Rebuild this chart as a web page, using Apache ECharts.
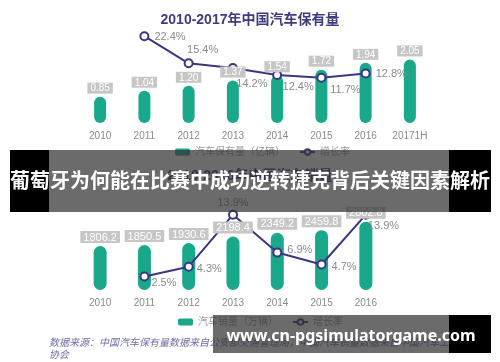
<!DOCTYPE html>
<html>
<head>
<meta charset="utf-8">
<script src="https://cdn.jsdelivr.net/npm/echarts@6/dist/echarts.min.js"></script>
<style>html,body{margin:0;padding:0;background:#fff;}#c{width:500px;height:362px;}</style>
</head>
<body>
<div id="c"></div>
<script>
const years1 = ['2010','2011','2012','2013','2014','2015','2016','20171H'];
const stock = [0.85, 1.04, 1.20, 1.37, 1.54, 1.72, 1.94, 2.05];
const stockGrowth = ['-', 22.4, 15.4, 14.2, 12.4, 11.7, 12.8, '-'];
const years2 = ['2010','2011','2012','2013','2014','2015','2016'];
const sales = [1806.2, 1850.5, 1930.6, 2198.4, 2349.2, 2459.8, 2802.8];
const salesGrowth = ['-', 2.5, 4.3, 13.9, 6.9, 4.7, 13.9];
const title1 = '2010-2017年中国汽车保有量';
const title2 = '2010-2016年中国汽车销量';
const legend1 = ['汽车保有量（亿辆）', '增长率'];
const legend2 = ['汽车销量（万辆）', '增长率'];
const bannerText = '葡萄牙为何能在比赛中成功逆转捷克背后关键因素解析';
const urlText = 'www.cn-pgsimulatorgame.com';
const sourceLine1 = '数据来源：中国汽车保有量数据来自公安部交通管理局，中国汽车销量数据来自中国汽车工业';
const sourceLine2 = '协会';

// label placement (style only)
const pos1 = [null, ['right',5,[0,1]], ['top',3,[14,0]], ['bottom',5,[19,0]], ['bottom',2,[21,0]], ['bottom',2,[24,0]], ['right',5,[0,1]], null];
const pos2 = [null, ['right',5,[-3,7]], ['right',5,[-2,2]], ['top',1,[0,0]], ['right',5,[0,-3]], ['right',5,[0,2]], ['right',0,[-3,11]]];

const GREEN = '#19a88a', PURPLE = '#3b3680', FONT = "'Liberation Sans','Noto Sans CJK SC',sans-serif";

function lineData(vals, pos) {
  return vals.map((v, i) => {
    if (v === '-' || !pos[i]) return v;
    return { value: v, label: { position: pos[i][0], distance: pos[i][1], offset: pos[i][2] } };
  });
}

const chart = echarts.init(document.getElementById('c'), null, { renderer: 'canvas' });
const axisLab = { color: '#8a8a8a', fontSize: 10, margin: 8, interval: 0, fontFamily: FONT };
chart.setOption({
  animation: false,
  textStyle: { fontFamily: FONT },
  title: [
    { text: title1, left: 'center', top: 8, textStyle: { color: '#3f3b7f', fontSize: 14, fontWeight: 'bold', fontFamily: FONT } },
    { text: title2, left: 'center', top: 164, textStyle: { color: '#3f3b7f', fontSize: 14, fontWeight: 'bold', fontFamily: FONT } }
  ],
  legend: [
    { data: [{ name: legend1[0], icon: 'roundRect' }, legend1[1]], left: 170, top: 142, itemWidth: 15, itemHeight: 7, itemGap: 14,
      textStyle: { color: '#9a9a9a', fontSize: 10, fontFamily: FONT } },
    { data: [{ name: legend2[0], icon: 'roundRect' }, legend2[1]], left: 173, top: 312, itemWidth: 15, itemHeight: 7, itemGap: 14,
      textStyle: { color: '#9a9a9a', fontSize: 10, fontFamily: FONT } }
  ],
  grid: [
    { left: 78, width: 354, top: 30, height: 93 },
    { left: 78, width: 310, top: 200, height: 90 }
  ],
  xAxis: [
    { type: 'category', gridIndex: 0, data: years1, axisLine: { show: false }, axisTick: { show: false }, axisLabel: axisLab },
    { type: 'category', gridIndex: 1, data: years2, axisLine: { show: false }, axisTick: { show: false }, axisLabel: axisLab }
  ],
  yAxis: [
    { type: 'value', gridIndex: 0, min: 0, max: 3, show: false, splitLine: { show: false } },
    { type: 'value', gridIndex: 0, min: 0, max: 24, show: false, splitLine: { show: false } },
    { type: 'value', gridIndex: 1, min: 0, max: 3700, show: false, splitLine: { show: false } },
    { type: 'value', gridIndex: 1, min: 0, max: 16.6, show: false, splitLine: { show: false } }
  ],
  series: [
    { name: legend1[0], type: 'bar', xAxisIndex: 0, yAxisIndex: 0, data: stock, barWidth: 12, z: 2,
      itemStyle: { color: GREEN, borderRadius: 6 } },
    { name: 'lab1', type: 'bar', xAxisIndex: 0, yAxisIndex: 0, data: stock, barWidth: 12, barGap: '-100%', z: 5,
      itemStyle: { color: 'rgba(0,0,0,0)' }, silent: true,
      label: { show: true, position: 'top', distance: 3, color: '#fff', fontSize: 10, backgroundColor: '#c6c6c6', padding: [1, 3, 0, 3],
        formatter: p => p.value.toFixed(2) } },
    { name: legend1[1], type: 'line', xAxisIndex: 0, yAxisIndex: 1, data: lineData(stockGrowth, pos1), z: 3,
      symbol: 'emptyCircle', symbolSize: 8, lineStyle: { color: PURPLE, width: 2 }, itemStyle: { color: PURPLE, borderWidth: 2 },
      label: { show: true, color: '#8a8a8a', fontSize: 11, formatter: p => p.value + '%' } },
    { name: legend2[0], type: 'bar', xAxisIndex: 1, yAxisIndex: 2, data: sales, barWidth: 13, z: 2,
      itemStyle: { color: GREEN, borderRadius: 6.5 } },
    { name: 'lab2', type: 'bar', xAxisIndex: 1, yAxisIndex: 2, data: sales, barWidth: 13, barGap: '-100%', z: 5,
      itemStyle: { color: 'rgba(0,0,0,0)' }, silent: true,
      label: { show: true, position: 'top', distance: 3, color: '#fff', fontSize: 11, backgroundColor: '#c6c6c6', padding: [1, 3, 0, 3],
        formatter: p => p.value.toFixed(1) } },
    { name: legend2[1], type: 'line', xAxisIndex: 1, yAxisIndex: 3, data: lineData(salesGrowth, pos2), z: 3,
      symbol: 'emptyCircle', symbolSize: 8, lineStyle: { color: PURPLE, width: 2 }, itemStyle: { color: PURPLE, borderWidth: 2 },
      label: { show: true, color: '#8a8a8a', fontSize: 11, formatter: p => p.value + '%' } }
  ],
  graphic: [
    { type: 'text', z: 50, x: 49, y: 342, style: { x: 0, y: 0, text: sourceLine1, fill: '#6f6da6', font: "italic 10px 'Noto Sans CJK SC'", verticalAlign: 'middle', textVerticalAlign: 'middle' } },
    { type: 'text', z: 50, x: 49, y: 354, style: { x: 0, y: 0, text: sourceLine2, fill: '#6f6da6', font: "italic 10px 'Noto Sans CJK SC'", verticalAlign: 'middle', textVerticalAlign: 'middle' } },
    { type: 'rect', z: 100, shape: { x: 10, y: 150, width: 39, height: 62 }, style: { fill: '#000' } },
    { type: 'rect', z: 100, shape: { x: 449, y: 150, width: 42, height: 62 }, style: { fill: '#000' } },
    { type: 'rect', z: 100, shape: { x: 49, y: 150, width: 400, height: 62 }, style: { fill: 'rgba(50,50,50,0.72)' } },
    { type: 'text', z: 101, style: { x: 250, y: 180, text: bannerText, fill: '#fff', font: "bold 20px 'Noto Sans CJK SC'", align: 'center', verticalAlign: 'middle', textAlign: 'center', textVerticalAlign: 'middle' } },
    { type: 'rect', z: 100, shape: { x: 213, y: 315, width: 236, height: 38 }, style: { fill: 'rgba(50,50,50,0.72)' } },
    { type: 'rect', z: 100, shape: { x: 449, y: 315, width: 42, height: 38 }, style: { fill: '#000' } },
    { type: 'text', z: 101, style: { x: 351, y: 336, text: urlText, fill: '#fff', font: "bold 16px 'Noto Sans'", align: 'center', verticalAlign: 'middle', textAlign: 'center', textVerticalAlign: 'middle' } }
  ]
});
</script>
</body>
</html>
